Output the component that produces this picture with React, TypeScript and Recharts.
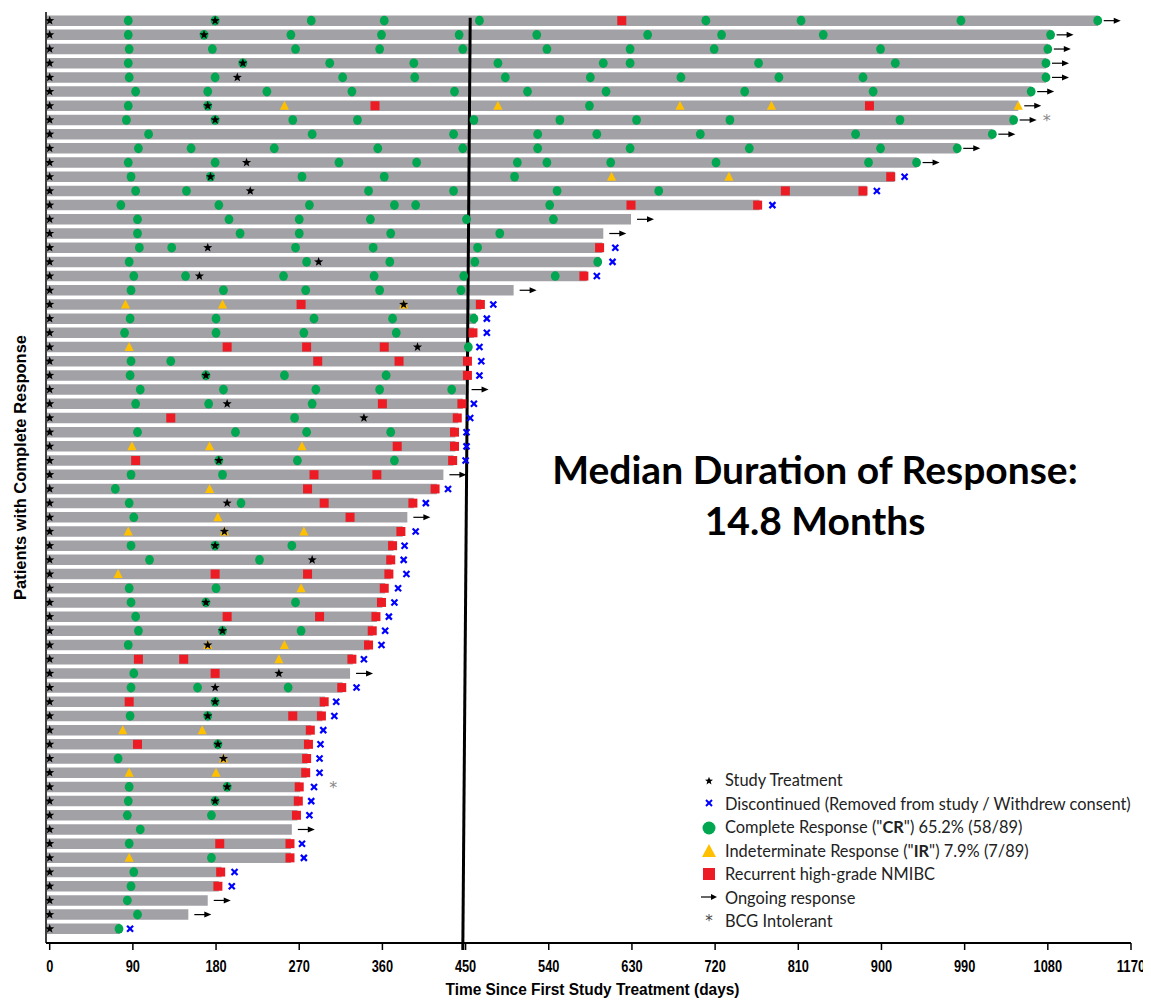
import React from 'react';
import { ComposedChart, XAxis, YAxis, Scatter, ReferenceArea, ReferenceLine, Label } from 'recharts';

// ---------- data (days since first study treatment), one entry per patient row, top to bottom ----------
const rowEnds = [
  1134, 1083, 1080, 1078, 1078, 1062, 1048, 1043, 1020, 982, 938, 914, 884, 768, 629, 599, 598, 595, 581, 502,
  467, 461, 459, 455, 454, 453, 450, 447, 442, 439, 439, 437, 426, 419, 394, 387, 382, 372, 370, 369,
  363, 360, 354, 350, 346, 328, 325, 317, 298, 295, 283, 281, 279, 278, 271, 270, 268, 262, 261, 261,
  186, 183, 171, 150, 76,
];

const crDays: number[][] = [
  [85, 179, 283, 362, 465, 710, 813, 986, 1134],
  [85, 167, 261, 359, 443, 527, 647, 727, 837, 1083],
  [86, 176, 266, 357, 447, 538, 628, 719, 899, 1080],
  [85, 209, 303, 394, 485, 599, 628, 767, 915, 1078],
  [86, 179, 317, 395, 493, 585, 683, 789, 880, 1078],
  [93, 171, 235, 327, 438, 517, 602, 752, 891, 1062],
  [85, 171, 584],
  [83, 179, 263, 333, 459, 552, 635, 736, 920, 1043],
  [107, 284, 437, 528, 592, 704, 872, 1020],
  [96, 153, 243, 355, 447, 528, 628, 757, 899, 982],
  [85, 179, 313, 397, 506, 538, 607, 721, 886, 938],
  [88, 174, 273, 362, 503],
  [93, 148, 345, 437, 549, 659],
  [77, 183, 281, 373, 396, 541],
  [95, 194, 270, 347, 451, 545],
  [95, 206, 270, 369, 487],
  [97, 132, 266, 350, 463],
  [86, 278, 368, 460, 593],
  [91, 147, 253, 351, 448, 547],
  [88, 188, 277, 357, 445],
  [],
  [87, 180, 286, 371, 459],
  [81, 180, 275, 375],
  [453],
  [88, 131],
  [87, 169, 254, 364],
  [98, 188, 288, 357, 435],
  [93, 172, 284],
  [265],
  [95, 201, 278, 369],
  [],
  [183, 268, 373],
  [88, 187],
  [71],
  [86, 207],
  [91],
  [],
  [88, 179, 262],
  [108, 227],
  [],
  [86, 180],
  [88, 169, 266],
  [93],
  [96, 187, 272],
  [85],
  [],
  [91],
  [88, 160, 258],
  [179],
  [87, 171],
  [],
  [182],
  [74],
  [],
  [86, 192],
  [85, 179],
  [84, 175],
  [98],
  [86],
  [175],
  [91],
  [88],
  [84],
  [95],
  [75],
];

const irDays: number[][] = [
  [], [], [], [], [], [], [254, 485, 682, 781, 1048], [], [], [],
  [], [608, 735], [], [], [], [], [], [], [], [],
  [82, 187, 383], [], [], [86], [], [], [], [], [], [],
  [89, 173, 273], [], [], [173], [], [182], [85, 189, 275], [], [], [74],
  [272], [], [], [], [171, 254], [248], [], [], [], [],
  [79, 165], [], [188], [86, 180], [], [], [], [], [], [86],
  [], [], [], [], [],
];

const recurDays: number[][] = [
  [619], [], [], [], [], [], [352, 887], [], [], [],
  [], [910], [796, 880], [629, 766], [], [], [595], [], [578], [],
  [272, 466], [], [458], [192, 278, 362], [290, 378, 452], [452], [], [360, 446], [131, 441], [438],
  [376, 438], [93, 436], [286, 354], [279, 417], [297, 393], [325], [380], [371], [369], [179, 279, 367],
  [362], [359], [192, 292, 353], [349], [345], [96, 145, 327], [179], [316], [86, 297], [263, 294],
  [282], [95, 280], [278], [277], [270], [269], [267], [], [184, 260], [260],
  [185], [182], [], [], [],
];

// study treatment doses after day 0 (every patient also has a dose at day 0)
const treatDays: number[][] = [
  [179], [167], [], [209], [203], [], [171], [179], [], [],
  [213], [174], [217], [], [], [], [171], [291], [162], [],
  [383], [], [], [398], [], [169], [], [192], [340], [],
  [], [183], [], [], [192], [], [189], [179], [284], [],
  [], [169], [], [187], [171], [], [248], [179], [179], [171],
  [], [182], [188], [], [192], [179], [], [], [], [],
  [], [], [], [], [],
];

const discDays: (number | null)[] = [
  null, null, null, null, null, null, null, null, null, null,
  null, 925, 895, 782, null, null, 612, 609, 592, null,
  480, 473, 473, 465, 467, 465, null, 459, 455, 451,
  451, 450, null, 431, 407, null, 396, 384, 383, 386,
  377, 373, 367, 363, 359, 340, null, 332, 310, 308,
  296, 293, 292, 292, 286, 283, 281, null, 273, 275,
  200, 197, null, null, 87,
];

const ongoingRows = [1, 2, 3, 4, 5, 6, 7, 8, 9, 10, 11, 15, 16, 20, 27, 33, 36, 47, 58, 63, 64];
const bcgIntolerantRows = [8, 55];

const xTicks = [0, 90, 180, 270, 360, 450, 540, 630, 720, 810, 900, 990, 1080, 1170];
const medianLine = [{ x: 455, y: 0.8 }, { x: 447, y: 66.5 }];

const xAxisTitle = 'Time Since First Study Treatment (days)';
const yAxisTitle = 'Patients with Complete Response';
const medianText = ['Median Duration of Response:', '14.8 Months'];

const legendLabels = [
  'Study Treatment',
  'Discontinued (Removed from study / Withdrew consent)',
  'Complete Response ("CR") 65.2% (58/89)',
  'Indeterminate Response ("IR") 7.9% (7/89)',
  'Recurrent high-grade NMIBC',
  'Ongoing response',
  'BCG Intolerant',
];

// ---------- derived point lists ----------
const rows = rowEnds.map((_, i) => i + 1);
const toPoints = (lists: number[][]) => lists.flatMap((days, i) => days.map((d) => ({ x: d, y: i + 1 })));
const crPts = toPoints(crDays);
const irPts = toPoints(irDays);
const redPts = toPoints(recurDays);
const starPts = [...rows.map((r) => ({ x: 0, y: r })), ...toPoints(treatDays)];
const discPts = discDays.flatMap((d, i) => (d == null ? [] : [{ x: d, y: i + 1 }]));
const ongoingPts = ongoingRows.map((r) => ({ x: rowEnds[r - 1], y: r }));
const bcgPts = bcgIntolerantRows.map((r) => ({ x: rowEnds[r - 1], y: r }));

// ---------- styles ----------
const GREEN = '#00a650';
const AMBER = '#ffc000';
const RED = '#ed1c24';
const BLUE = '#0000ff';
const BAR = '#a2a1a6';
const SANS = '"Liberation Sans", Arial, sans-serif';
const HUMANIST = 'Lato, "Open Sans", "Noto Sans", sans-serif';

const starPoints = (cx: number, cy: number, ro: number, ri: number) => {
  const p: string[] = [];
  for (let k = 0; k < 10; k++) {
    const r = k % 2 === 0 ? ro : ri;
    const a = -Math.PI / 2 + (k * Math.PI) / 5;
    p.push(`${cx + r * Math.cos(a)},${cy + r * Math.sin(a)}`);
  }
  return p.join(' ');
};

const StarShape = (p: any) => (p.cx == null ? <g /> : <polygon points={starPoints(p.cx, p.cy, 4.8, 2)} fill="#000" />);
const CircleShape = (p: any) => (p.cx == null ? <g /> : <ellipse cx={p.cx} cy={p.cy} rx={4.4} ry={4.8} fill={GREEN} />);
const TriShape = (p: any) =>
  p.cx == null ? <g /> : <polygon points={`${p.cx},${p.cy - 5} ${p.cx - 4.6},${p.cy + 4} ${p.cx + 4.6},${p.cy + 4}`} fill={AMBER} />;
const SquareShape = (p: any) => (p.cx == null ? <g /> : <rect x={p.cx - 4.5} y={p.cy - 4.5} width={9} height={9} fill={RED} />);
const XShape = (p: any) =>
  p.cx == null ? (
    <g />
  ) : (
    <g stroke={BLUE} strokeWidth={2.2}>
      <line x1={p.cx - 3} y1={p.cy - 3} x2={p.cx + 3} y2={p.cy + 3} />
      <line x1={p.cx - 3} y1={p.cy + 3} x2={p.cx + 3} y2={p.cy - 3} />
    </g>
  );
const ArrowShape = (p: any) =>
  p.cx == null ? (
    <g />
  ) : (
    <g>
      <line x1={p.cx + 6} y1={p.cy} x2={p.cx + 17} y2={p.cy} stroke="#000" strokeWidth={1.2} />
      <polygon points={`${p.cx + 16},${p.cy - 3} ${p.cx + 23},${p.cy} ${p.cx + 16},${p.cy + 3}`} fill="#000" />
    </g>
  );
const AsteriskShape = (p: any) =>
  p.cx == null ? (
    <g />
  ) : (
    <text x={p.cx + 33} y={p.cy + 6} fontSize={16} fill="#888" textAnchor="middle" fontFamily="DejaVu Sans, sans-serif">
      *
    </text>
  );

// narrow bold tick labels (Arial Narrow look)
const XTick = (p: any) => {
  const s = String(p.payload.value);
  return (
    <text
      x={p.x}
      y={p.y}
      dy={11.5}
      textAnchor="middle"
      fontSize={16}
      fontWeight={700}
      fontFamily={SANS}
      fill="#000"
      textLength={s.length * 7.1}
      lengthAdjust="spacingAndGlyphs"
    >
      {s}
    </text>
  );
};

const XTitle = (p: any) => {
  const vb = p.viewBox;
  return (
    <text
      x={vb.x + vb.width / 2 + 4}
      y={vb.y + vb.height - 5}
      textAnchor="middle"
      fontSize={16}
      fontWeight={700}
      fontFamily={SANS}
      fill="#000"
      textLength={294}
      lengthAdjust="spacingAndGlyphs"
    >
      {xAxisTitle}
    </text>
  );
};

const YTitle = (p: any) => {
  const vb = p.viewBox;
  const x = vb.x + vb.width / 2 - 6.5;
  const y = vb.y + vb.height / 2 - 10;
  return (
    <text
      x={x}
      y={y}
      transform={`rotate(-90, ${x}, ${y})`}
      textAnchor="middle"
      dominantBaseline="central"
      fontSize={16}
      fontWeight={700}
      fontFamily={SANS}
      fill="#000"
      textLength={265}
      lengthAdjust="spacingAndGlyphs"
    >
      {yAxisTitle}
    </text>
  );
};

const LegendIcon = ({ kind }: { kind: number }) => {
  const c = 9;
  if (kind === 6) {
    return (
      <span style={{ display: 'inline-block', width: 18, textAlign: 'center', color: '#444', fontFamily: 'DejaVu Sans, sans-serif', fontSize: 15, lineHeight: '18px' }}>
        *
      </span>
    );
  }
  return (
    <svg width={18} height={18} style={{ display: 'block' }}>
      {kind === 0 && <polygon points={starPoints(c, c + 1, 4.2, 1.8)} fill="#000" />}
      {kind === 1 && (
        <g stroke={BLUE} strokeWidth={2}>
          <line x1={c - 3} y1={c - 3} x2={c + 3} y2={c + 3} />
          <line x1={c - 3} y1={c + 3} x2={c + 3} y2={c - 3} />
        </g>
      )}
      {kind === 2 && <circle cx={c} cy={c + 1} r={6.5} fill={GREEN} />}
      {kind === 3 && <polygon points={`${c},${c - 6} ${c - 7},${c + 7} ${c + 7},${c + 7}`} fill={AMBER} />}
      {kind === 4 && <rect x={c - 6} y={c - 6} width={12} height={12} fill={RED} />}
      {kind === 5 && (
        <g>
          <line x1={1} y1={c} x2={12} y2={c} stroke="#000" strokeWidth={1.2} />
          <polygon points={`${11},${c - 3} ${17},${c} ${11},${c + 3}`} fill="#000" />
        </g>
      )}
    </svg>
  );
};

const renderLegendText = (s: string) => {
  const m = s.match(/^(.*\(")(CR|IR)("\).*)$/);
  if (!m) return s;
  return (
    <>
      {m[1]}
      <b>{m[2]}</b>
      {m[3]}
    </>
  );
};

export default function App() {
  return (
    <div style={{ position: 'relative', width: 1143, height: 992 }}>
      <ComposedChart width={1143} height={992} margin={{ top: 4, right: 20, bottom: 0, left: 0 }}>
        <XAxis
          type="number"
          dataKey="x"
          domain={[-4, 1170]}
          allowDataOverflow
          ticks={xTicks}
          interval={0}
          height={57}
          tickSize={7}
          tickMargin={10}
          axisLine={{ stroke: '#000', strokeWidth: 2 }}
          tickLine={{ stroke: '#000', strokeWidth: 1.5 }}
          tick={XTick}
        >
          <Label content={XTitle} />
        </XAxis>
        <YAxis
          type="number"
          dataKey="y"
          domain={[0.39, 66]}
          allowDataOverflow
          reversed
          ticks={rows}
          interval={0}
          width={38}
          tick={false}
          tickSize={6}
          axisLine={{ stroke: '#000', strokeWidth: 1.5 }}
          tickLine={{ stroke: '#000', strokeWidth: 1.2 }}
        >
          <Label content={YTitle} />
        </YAxis>
        {rowEnds.map((end, i) => (
          <ReferenceArea
            key={`bar-${i}`}
            x1={-3}
            x2={end}
            y1={i + 1 - 0.37}
            y2={i + 1 + 0.37}
            fill={BAR}
            fillOpacity={1}
            stroke="none"
            ifOverflow="visible"
          />
        ))}
        <ReferenceLine segment={medianLine} stroke="#000" strokeWidth={3} ifOverflow="visible" />
        <Scatter data={crPts} shape={CircleShape} isAnimationActive={false} />
        <Scatter data={irPts} shape={TriShape} isAnimationActive={false} />
        <Scatter data={redPts} shape={SquareShape} isAnimationActive={false} />
        <Scatter data={discPts} shape={XShape} isAnimationActive={false} />
        <Scatter data={ongoingPts} shape={ArrowShape} isAnimationActive={false} />
        <Scatter data={bcgPts} shape={AsteriskShape} isAnimationActive={false} />
        <Scatter data={starPts} shape={StarShape} isAnimationActive={false} />
      </ComposedChart>

      <div
        style={{
          position: 'absolute',
          left: 507,
          top: 436,
          width: 600,
          textAlign: 'center',
          fontFamily: HUMANIST,
          fontWeight: 700,
          fontSize: 39,
          lineHeight: '51px',
          color: '#000',
        }}
      >
        {medianText.map((t, k) => (
          <div key={k}>{t}</div>
        ))}
      </div>

      <div style={{ position: 'absolute', left: 692, top: 760, fontFamily: HUMANIST, fontSize: 16.4, color: '#222' }}>
        {legendLabels.map((t, k) => (
          <div key={k} style={{ display: 'flex', alignItems: 'center', height: 23.5 }}>
            <LegendIcon kind={k} />
            <span style={{ marginLeft: 7, whiteSpace: 'nowrap' }}>{renderLegendText(t)}</span>
          </div>
        ))}
      </div>
    </div>
  );
}
